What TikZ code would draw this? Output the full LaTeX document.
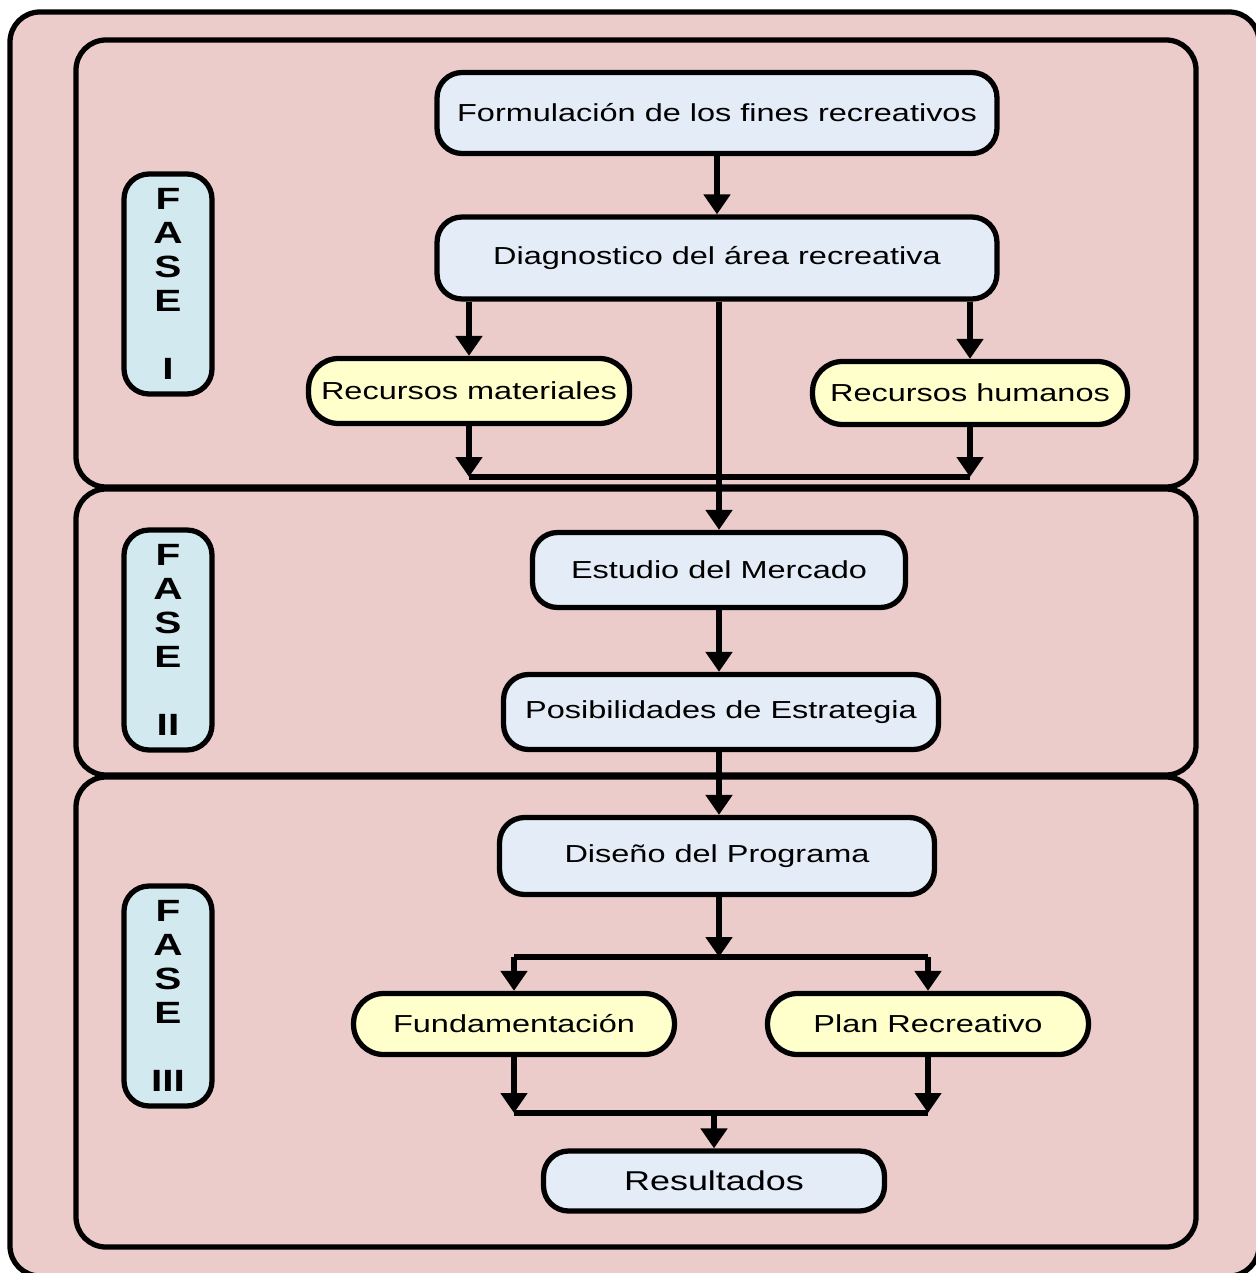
\documentclass[tikz,border=0pt]{standalone}
\usepackage{fontspec}
\setmainfont{Liberation Sans}[FakeStretch=1.32]
\usetikzlibrary{arrows.meta}
\definecolor{fondo}{HTML}{ECCBCB}
\definecolor{azul}{HTML}{E4ECF7}
\definecolor{amarillo}{HTML}{FFFFCC}
\definecolor{celeste}{HTML}{D2E9EF}
\tikzset{
  caja/.style={draw,line width=3pt,rounded corners=0.5cm,fill=azul,inner sep=0pt,font=\fontsize{14}{16}\selectfont},
  recurso/.style={caja,fill=amarillo,rounded corners=0.6cm},
  fase/.style={draw,line width=3pt,rounded corners=0.5cm,fill=celeste,minimum width=1.76cm,minimum height=4.4cm,align=center,font=\bfseries\fontsize{17.5}{19.3}\selectfont},
  bloque/.style={draw,line width=3pt,rounded corners=0.6cm},
  flecha/.style={line width=3pt,-{Triangle[width=0.52cm,length=0.4cm]}},
  linea/.style={line width=3pt},
}
\begin{document}
\begin{tikzpicture}[x=0.02cm,y=-0.02cm]
    \useasboundingbox(0,0)rectangle(1255,1273);
    \fill[white](0,0)rectangle(1255,1273);
    \draw[bloque,fill=fondo](10,12)rectangle(1259,1276);%marco
    \draw[bloque](76,40)rectangle(1196,487);%fase I
    \draw[bloque](76,489)rectangle(1196,775);%fase II
    \draw[bloque](76,777)rectangle(1196,1247);%fase III
    \node[fase](f1)at(168,284){F\\A\\S\\E\\\\I};
    \node[fase](f2)at(168,640){F\\A\\S\\E\\\\II};
    \node[fase](f3)at(168,996){F\\A\\S\\E\\\\III};
    \node[caja,minimum width=11.2cm,minimum height=1.62cm](form)at(717,113){Formulación de los fines recreativos};
    \node[caja,minimum width=11.2cm,minimum height=1.64cm](diag)at(717,258){Diagnostico del área recreativa};
    \node[recurso,minimum width=6.42cm,minimum height=1.3cm](rmat)at(469,391){Recursos materiales};
    \node[recurso,minimum width=6.3cm,minimum height=1.26cm](rhum)at(970,393){Recursos humanos};
    \node[caja,minimum width=7.46cm,minimum height=1.5cm](merc)at(719,570){Estudio del Mercado};
    \node[caja,minimum width=8.7cm,minimum height=1.5cm](posi)at(721,712){Posibilidades de Estrategia};
    \node[caja,minimum width=8.7cm,minimum height=1.54cm](dise)at(717,856){Diseño del Programa};
    \node[recurso,minimum width=6.42cm,minimum height=1.22cm](fund)at(514,1024){Fundamentación};
    \node[recurso,minimum width=6.42cm,minimum height=1.22cm](plan)at(928,1024){Plan Recreativo};
    \node[caja,minimum width=6.82cm,minimum height=1.2cm,font=\fontsize{15.5}{17}\selectfont](resu)at(714,1181){Resultados};
    \coordinate(j1)at(719,477);%union recursos
    \coordinate(j2)at(719,957);%reparto
    \coordinate(j3)at(714,1113);%union final
    \draw[flecha](form)--(diag);
    \draw[flecha](rmat.north|-diag.south)--(rmat.north);
    \draw[flecha](rhum.north|-diag.south)--(rhum.north);
    \draw[flecha](merc.north|-diag.south)--(merc.north);
    \draw[flecha](rmat)--(rmat.south|-j1);
    \draw[flecha](rhum)--(rhum.south|-j1);
    \draw[linea](rmat.south|-j1)--(rhum.south|-j1);
    \draw[flecha](merc)--(merc.south|-posi.north);
    \draw[flecha](posi.south-|j2)--(dise.north-|j2);
    \draw[flecha](dise.south-|j2)--(j2);
    \draw[linea](fund.north|-j2)--(plan.north|-j2);
    \draw[flecha](fund.north|-j2)--(fund.north);
    \draw[flecha](plan.north|-j2)--(plan.north);
    \draw[flecha](fund)--(fund.south|-j3);
    \draw[flecha](plan)--(plan.south|-j3);
    \draw[linea](fund.south|-j3)--(plan.south|-j3);
    \draw[flecha](j3)--(resu);
    \end{tikzpicture}
\end{document}
